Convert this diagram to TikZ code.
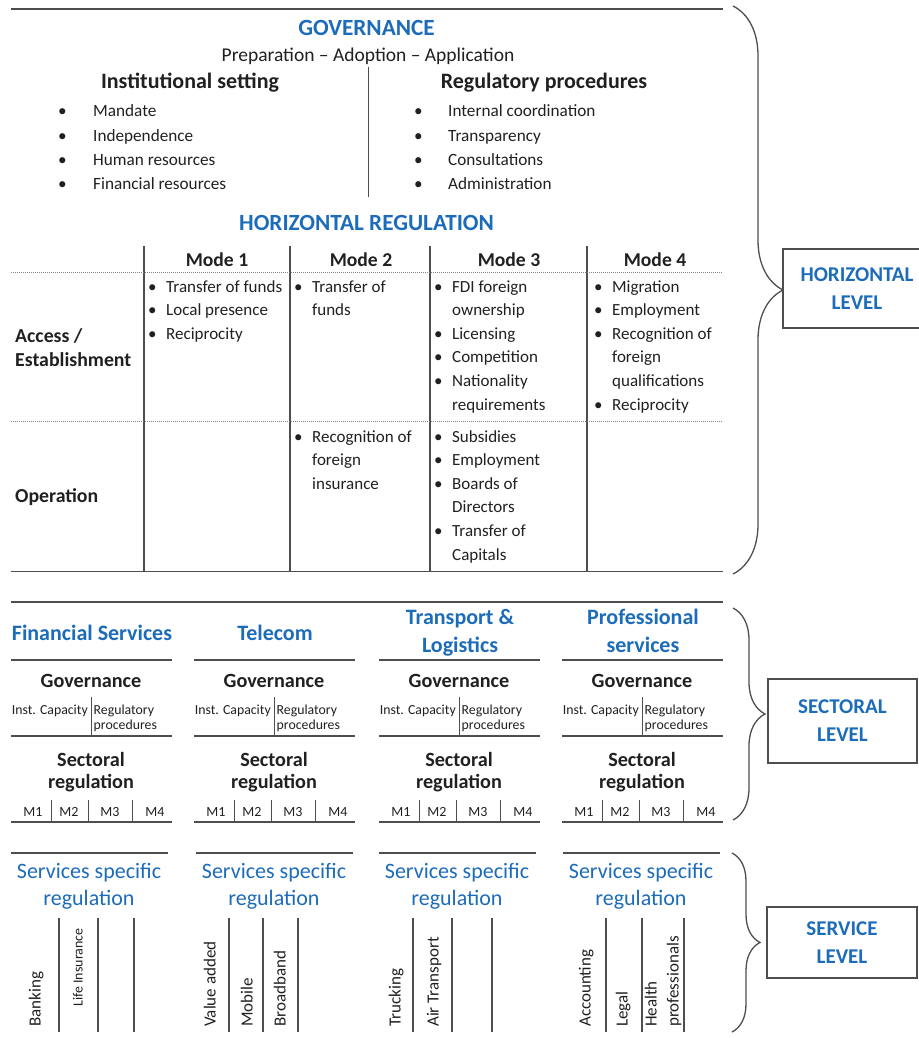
\documentclass[tikz,border=0pt]{standalone}
\usepackage{fontspec}
\setmainfont{Carlito}
\usetikzlibrary{decorations.pathreplacing}
\definecolor{govblue}{RGB}{28,108,186}
\definecolor{ink}{RGB}{32,32,32}
\definecolor{rulegray}{RGB}{78,78,78}

\newcommand{\fs}[2]{\fontsize{#1}{#2}\selectfont}
\newcommand{\cbul}{\makebox[18pt][l]{\textbullet}}
\newcommand{\chang}{\hspace*{18pt}}

% lines of one mode cell: 1 = new bullet, 0 = continued line
\newcommand{\modecell}[4]{
  \foreach \bflag/\btext [count=\row] in {#4} {
    \node[cell] (#1\row) at (#2,{#3+23.6*(\row-1)}) {\ifnum\bflag=1 \cbul\else\chang\fi\btext};
  }
}

\begin{document}
\begin{tikzpicture}
[x=1pt,y=-1pt,
every node/.style={inner sep=0pt, text=ink},
rulel/.style={draw=rulegray, line width=1.2pt},
thinrule/.style={draw=rulegray, line width=0.9pt},
dotrule/.style={draw=rulegray!70, line width=0.9pt, dash pattern=on 1pt off 1pt},
bighead/.style={font=\bfseries\fs{23.2}{26}, text=govblue, anchor=base},
subhead/.style={font=\bfseries\fs{22}{24}, anchor=base},
gitem/.style={font=\fs{17.2}{20}, anchor=base west},
cell/.style={font=\fs{17}{20}, anchor=base west},
modehead/.style={font=\bfseries\fs{19.6}{22}, anchor=base},
rowhead/.style={font=\bfseries\fs{19.8}{24}, anchor=base west, align=left},
sectitle/.style={font=\bfseries\fs{22}{28}, text=govblue, anchor=base, align=center},
secgov/.style={font=\bfseries\fs{20.2}{22}, anchor=base, align=center},
small/.style={font=\fs{13.8}{15}, anchor=base west, align=left},
mlabel/.style={font=\fs{14}{16}, anchor=base},
spec/.style={font=\fs{22}{27}, text=govblue, anchor=base, align=center},
vlabel/.style={font=\fs{17}{20}, rotate=90, anchor=base west},
levelbox/.style={draw=rulegray, line width=1.2pt, font=\bfseries\fs{21}{28}, text=govblue, align=center},
lbrace/.style={draw=rulegray, line width=1.3pt, decorate}
]
\useasboundingbox (0,0) rectangle (918,1038);

% governance
\draw[rulel] (11,9) -- (723,9);
\node[bighead] (gov) at (366.5,36) {GOVERNANCE};
\node[font=\fs{19.5}{22}, anchor=base] (steps) at (368,62) {Preparation -- Adoption -- Application};
\draw[thinrule] (368,67) -- (368,197);
\node[subhead] (inst) at (190,89) {Institutional setting};
\node[subhead] (proc) at (544,89) {Regulatory procedures};
\foreach \btext [count=\row] in {Mandate,Independence,Human resources,Financial resources}
  \node[gitem] (inst\row) at (58,{117+24.3*(\row-1)}) {\makebox[35pt][l]{\textbullet}\btext};
\foreach \btext [count=\row] in {Internal coordination,Transparency,Consultations,Administration}
  \node[gitem] (proc\row) at (414,{117+24.3*(\row-1)}) {\makebox[34pt][l]{\textbullet}\btext};

% horizontal regulation table
\node[bighead] (horreg) at (366.5,230) {HORIZONTAL REGULATION};
\foreach \vx in {144,290,430,587} \draw[rulel] (\vx,246) -- (\vx,571.5);
\draw[dotrule] (11,272) -- (723,272);
\draw[dotrule] (11,421.5) -- (723,421.5);
\draw[rulel] (11,571.5) -- (723,571.5);
\foreach \mx/\mn in {217/1,361/2,509/3,655/4}
  \node[modehead] (mode\mn) at (\mx,266) {Mode \mn};
\node[rowhead] (access) at (15,366) {Access /\\Establishment};
\node[rowhead] (oper) at (15,502) {Operation};
\modecell{mia}{148}{292}{1/Transfer of funds,1/Local presence,1/Reciprocity}
\modecell{mib}{294}{292}{1/Transfer of,0/funds}
\modecell{mic}{434}{292}{1/FDI foreign,0/ownership,1/Licensing,1/Competition,1/Nationality,0/requirements}
\modecell{mid}{594}{292}{1/Migration,1/Employment,1/Recognition of,0/foreign,0/qualifications,1/Reciprocity}
\modecell{mob}{294}{442}{1/Recognition of,0/foreign,0/insurance}
\modecell{moc}{434}{442}{1/Subsidies,1/Employment,1/Boards of,0/Directors,1/Transfer of,0/Capitals}

% sectoral level
\draw[rulel] (11,602) -- (723,602);
\foreach \cx/\ttl/\ty [count=\col] in {11/{Financial Services}/640,194/Telecom/640,379/{Transport \&\\Logistics}/652,562/{Professional\\services}/652} {
  \node[sectitle] (sec\col) at (\cx+81,\ty) {\ttl};
  \draw[rulel] (\cx,660) -- ++(161,0);
  \node[secgov] (secgov\col) at (\cx+80,687) {Governance};
  \draw[thinrule] (\cx+80,697) -- (\cx+80,737);
  \node[small, anchor=base east] (cap\col) at (\cx+77,714) {Inst. Capacity};
  \node[small] (regp\col) at (\cx+82.5,729) {Regulatory\\procedures};
  \draw[rulel] (\cx,736) -- ++(161,0);
  \node[secgov] (secreg\col) at (\cx+80,788) {Sectoral\\regulation};
  \foreach \mx/\mt in {22/M1,58/M2,99/M3,144/M4}
    \node[mlabel] (m\col\mt) at (\cx+\mx,816) {\mt};
  \foreach \dx in {40,77,121} \draw[thinrule] (\cx+\dx,800) -- (\cx+\dx,822);
  \draw[rulel] (\cx,822) -- ++(161,0);
}

% service level
\foreach \cx/\vlist [count=\col] in {11/{59,98,134},196/{229,263,298},379/{413,452,492},563/{606,642,684}} {
  \draw[rulel] (\cx,853) -- ++(157,0);
  \node[spec] (spec\col) at (\cx+78,905) {Services specific\\regulation};
  \foreach \vx in \vlist \draw[rulel] (\vx,918) -- (\vx,1032);
}
\foreach \vx/\vt [count=\row] in {35/Banking,210/Value added,247/Mobile,280/Broadband,395/Trucking,433/Air Transport,585/Accounting,622/Legal,651/Health,673/professionals}
  \node[vlabel] (svc\row) at (\vx+5.5,1027) {\vt};
\node[vlabel, font=\fs{14}{16}] (life) at (82.5,1007) {Life Insurance};

% levels
\coordinate (hbtop) at (733,6);
\coordinate (hbbot) at (733,574);
\draw[lbrace, decoration={brace,amplitude=50pt}] (hbtop) -- (hbbot);
\node[levelbox, minimum width=148pt, minimum height=79pt] (hlevel) at (857,288.5) {HORIZONTAL\\LEVEL};
\coordinate (sbtop) at (733,608);
\coordinate (sbbot) at (733,820);
\draw[lbrace, decoration={brace,amplitude=32pt}] (sbtop) -- (sbbot);
\node[levelbox, minimum width=149pt, minimum height=84pt] (slevel) at (842.5,721) {SECTORAL\\LEVEL};
\coordinate (vbtop) at (732,853);
\coordinate (vbbot) at (732,1032);
\draw[lbrace, decoration={brace,amplitude=28pt}] (vbtop) -- (vbbot);
\node[levelbox, minimum width=150pt, minimum height=71pt] (vlevel) at (842,942.5) {SERVICE\\LEVEL};
\end{tikzpicture}
\end{document}
